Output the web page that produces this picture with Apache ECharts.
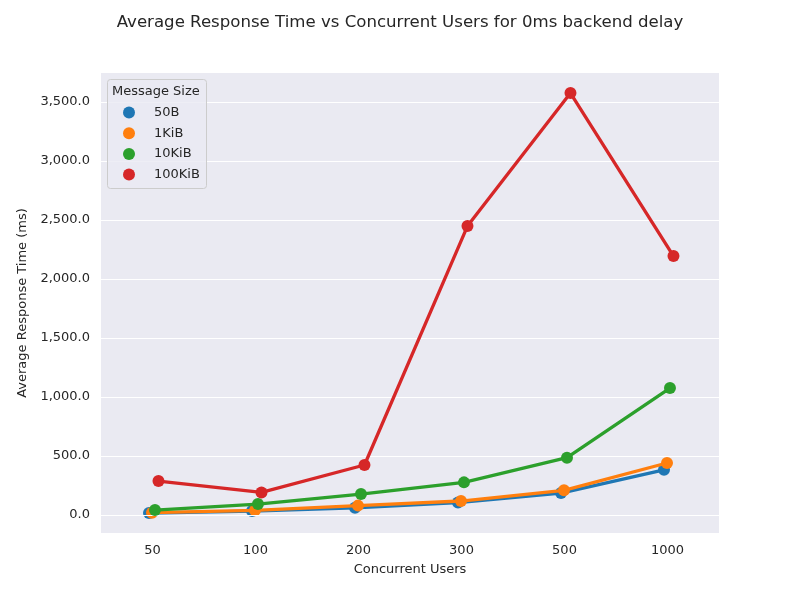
<!DOCTYPE html>
<html>
<head>
<meta charset="utf-8">
<script src="https://cdn.jsdelivr.net/npm/echarts@6/dist/echarts.min.js"></script>
<style>
  html, body { margin: 0; padding: 0; background: #fff; }
  #main { width: 800px; height: 600px; }
</style>
</head>
<body>
<div id="main"></div>
<script>
var users = ['50', '100', '200', '300', '500', '1000'];
var sizes = ['50B', '1KiB', '10KiB', '100KiB'];
var colors = ['#1f77b4', '#ff7f0e', '#2ca02c', '#d62728'];
// small horizontal dodge per hue, in category units
var dodge = [-0.034, -0.005, 0.024, 0.058];

var rt50B = [17, 34, 62, 106, 186, 383];
var rt1KiB = [20, 40, 80, 119, 210, 441];
var rt10KiB = [42, 93, 178, 277, 486, 1076];
var rt100KiB = [288, 192, 424, 2449, 3576, 2195];
var values = [rt50B, rt1KiB, rt10KiB, rt100KiB];

var yTicks = [0, 500, 1000, 1500, 2000, 2500, 3000, 3500];

var dom = document.getElementById('main');
var chart = echarts.init(dom);

var textColor = '#262626';
var font = 'DejaVu Sans';

var series = sizes.map(function (name, k) {
    return {
        name: name,
        type: 'line',
        xAxisIndex: 1,
        symbol: 'circle',
        symbolSize: 12,
        color: colors[k],
        lineStyle: { width: 3.3, color: colors[k] },
        itemStyle: { color: colors[k] },
        emphasis: { disabled: true },
        z: 3 + k,
        data: values[k].map(function (v, i) { return [i + dodge[k], v]; })
    };
});

var option = {
    animation: false,
    textStyle: { fontFamily: font, color: textColor },
    title: {
        text: 'Average Response Time vs Concurrent Users for 0ms backend delay',
        left: 'center',
        top: 9,
        textStyle: { fontFamily: font, fontSize: 16.6, fontWeight: 'normal', color: textColor }
    },
    grid: {
        left: 101,
        right: 81,
        top: 73,
        bottom: 67,
        show: true,
        backgroundColor: '#eaeaf2',
        borderWidth: 0
    },
    graphic: [{
        type: 'rect',
        left: 107,
        top: 79,
        shape: { width: 99, height: 109, r: 3 },
        style: { fill: 'rgba(234,234,242,0.8)', stroke: '#cccccc', lineWidth: 1 },
        z: 10
    }, {
        type: 'text',
        left: 112,
        top: 85,
        style: { text: 'Message Size', fontFamily: font, fontSize: 13, fill: textColor },
        z: 11
    }],
    legend: {
        data: sizes,
        orient: 'vertical',
        left: 118,
        top: 101,
        icon: 'circle',
        itemWidth: 12,
        itemHeight: 12,
        itemGap: 7.7,
        z: 12,
        textStyle: { fontFamily: font, fontSize: 13, color: textColor, padding: [0, 0, 0, 14] }
    },
    xAxis: [{
        type: 'category',
        data: users,
        boundaryGap: true,
        name: 'Concurrent Users',
        nameLocation: 'middle',
        nameGap: 30,
        nameTextStyle: { fontFamily: font, fontSize: 13, color: textColor },
        axisLine: { show: false },
        axisTick: { show: false },
        axisLabel: { fontFamily: font, fontSize: 13, color: textColor, margin: 11 },
        splitLine: { show: false }
    }, {
        type: 'value',
        min: -0.5,
        max: 5.5,
        show: false,
        splitLine: { show: false }
    }],
    yAxis: {
        type: 'value',
        min: -152,
        max: 3746,
        name: 'Average Response Time (ms)',
        nameLocation: 'middle',
        nameGap: 70,
        nameRotate: 90,
        nameTextStyle: { fontFamily: font, fontSize: 13, color: textColor },
        axisLine: { show: false },
        axisTick: { show: false, customValues: yTicks },
        axisLabel: {
            customValues: yTicks,
            fontFamily: font,
            fontSize: 13,
            color: textColor,
            margin: 11,
            formatter: function (v) {
                return v.toLocaleString('en-US', { minimumFractionDigits: 1, maximumFractionDigits: 1 });
            }
        },
        splitLine: { show: false }
    },
    series: series.concat([{
        type: 'line',
        xAxisIndex: 1,
        data: [],
        silent: true,
        z: 1,
        markLine: {
            silent: true,
            symbol: 'none',
            label: { show: false },
            lineStyle: { color: '#ffffff', width: 1, type: 'solid' },
            data: yTicks.map(function (t) { return { yAxis: t }; })
        }
    }])
};

chart.setOption(option);
</script>
</body>
</html>
